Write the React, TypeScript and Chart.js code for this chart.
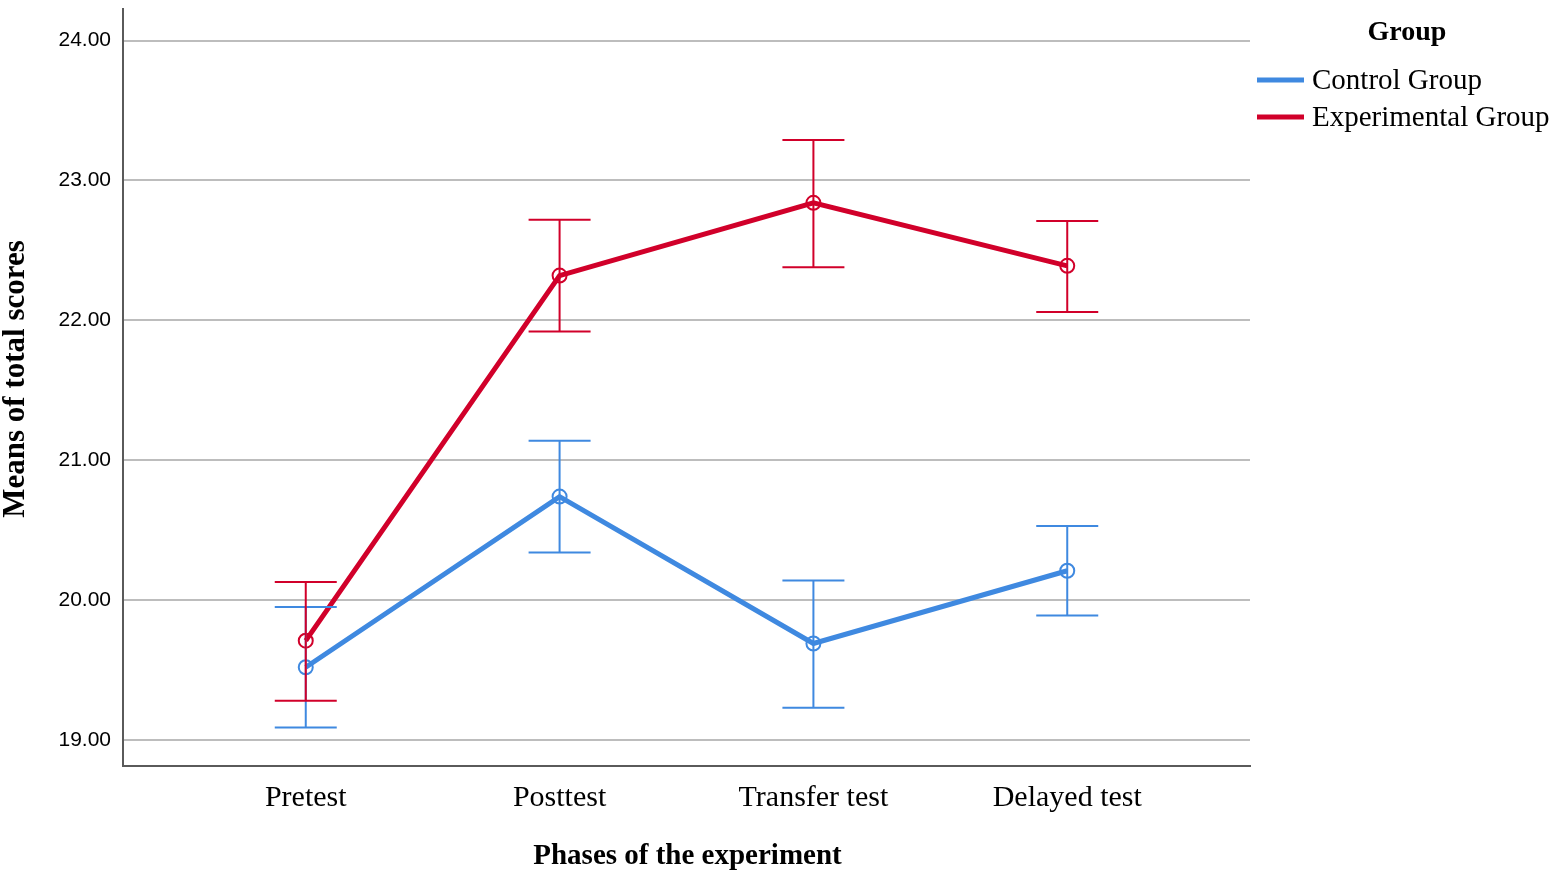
import React, { useEffect, useRef } from "react";
import { Chart, registerables } from "chart.js";

Chart.register(...registerables);

const categories = ["Pretest", "Posttest", "Transfer test", "Delayed test"];
const yTicks = [19, 20, 21, 22, 23, 24];

const controlMeans = [19.52, 20.74, 19.69, 20.21];
const controlLow = [19.09, 20.34, 19.23, 19.89];
const controlHigh = [19.95, 21.14, 20.14, 20.53];

const expMeans = [19.71, 22.32, 22.84, 22.39];
const expLow = [19.28, 21.92, 22.38, 22.06];
const expHigh = [20.13, 22.72, 23.29, 22.71];

const BLUE = "#3f89e0";
const RED = "#d1002a";

const SERIF = "'Liberation Serif', 'Times New Roman', serif";
const SANS = "'Liberation Sans', Arial, sans-serif";

const seriesList = [
  { name: "Control Group", color: BLUE, means: controlMeans, low: controlLow, high: controlHigh },
  { name: "Experimental Group", color: RED, means: expMeans, low: expLow, high: expHigh },
];

const errorBarPlugin = {
  id: "errorBars",
  afterDatasetsDraw(chart: any) {
    const { ctx, scales } = chart;
    const xs = scales.x;
    const ys = scales.y;
    ctx.save();
    ctx.lineWidth = 2;
    seriesList.forEach((s) => {
      ctx.strokeStyle = s.color;
      s.means.forEach((_, i) => {
        const x = xs.getPixelForValue(i);
        const yl = ys.getPixelForValue(s.low[i]);
        const yh = ys.getPixelForValue(s.high[i]);
        ctx.beginPath();
        ctx.moveTo(x, yl);
        ctx.lineTo(x, yh);
        ctx.moveTo(x - 31, yl);
        ctx.lineTo(x + 31, yl);
        ctx.moveTo(x - 31, yh);
        ctx.lineTo(x + 31, yh);
        ctx.stroke();
      });
    });
    ctx.restore();
  },
};

const textPlugin = {
  id: "texts",
  afterDraw(chart: any) {
    const { ctx, chartArea } = chart;
    ctx.save();
    ctx.fillStyle = "#000";
    // x title
    ctx.font = `bold 29px ${SERIF}`;
    ctx.textAlign = "center";
    ctx.textBaseline = "middle";
    ctx.fillText("Phases of the experiment", (chartArea.left + chartArea.right) / 2 + 1, 857);
    // y title
    ctx.save();
    ctx.translate(16, 379);
    ctx.rotate(-Math.PI / 2);
    ctx.font = `bold 31px ${SERIF}`;
    ctx.fillText("Means of total scores", 0, 0);
    ctx.restore();
    // legend
    ctx.font = `bold 28px ${SERIF}`;
    ctx.fillText("Group", 1407, 33);
    ctx.textAlign = "left";
    ctx.font = `29px ${SERIF}`;
    seriesList.forEach((s, i) => {
      const y = 80 + i * 37;
      ctx.strokeStyle = s.color;
      ctx.lineWidth = 5;
      ctx.beginPath();
      ctx.moveTo(1257, y);
      ctx.lineTo(1304, y);
      ctx.stroke();
      ctx.fillText(s.name, 1312, y + 1);
    });
    ctx.restore();
  },
};

export default function App() {
  const ref = useRef<HTMLCanvasElement>(null);
  useEffect(() => {
    const chart = new Chart(ref.current as HTMLCanvasElement, {
      type: "line",
      data: {
        datasets: seriesList.map((s) => ({
          label: s.name,
          data: s.means.map((v, i) => ({ x: i, y: v })),
          borderColor: s.color,
          backgroundColor: "rgba(0,0,0,0)",
          borderWidth: 5,
          pointRadius: 7,
          pointBorderWidth: 2,
          pointBorderColor: s.color,
          pointBackgroundColor: "rgba(0,0,0,0)",
          tension: 0,
        })),
      },
      options: {
        animation: false,
        responsive: false,
        layout: { padding: { left: 0, top: 3, right: 309, bottom: 0 } },
        plugins: { legend: { display: false }, tooltip: { enabled: false } },
        scales: {
          x: {
            type: "linear",
            min: -0.72,
            max: 3.72,
            afterBuildTicks: (scale: any) => {
              scale.ticks = categories.map((_, i) => ({ value: i }));
            },
            afterFit: (scale: any) => {
              scale.height = 111;
              scale.paddingLeft = 0;
              scale.paddingRight = 0;
            },
            grid: { display: false, drawTicks: false },
            border: { display: true, color: "#5a5a5a", width: 2 },
            ticks: {
              padding: 14,
              autoSkip: false,
              maxRotation: 0,
              color: "#000",
              font: { family: SERIF, size: 30 },
              callback: (v: any) => categories[Math.round(Number(v))] ?? "",
            },
          },
          y: {
            type: "linear",
            min: 18.814,
            max: 24.226,
            afterBuildTicks: (scale: any) => {
              scale.ticks = yTicks.map((v) => ({ value: v }));
            },
            afterFit: (scale: any) => {
              scale.width = 123;
              scale.paddingTop = 0;
              scale.paddingBottom = 0;
            },
            grid: { color: "#bdbdbd", lineWidth: 2, drawTicks: false },
            border: { display: true, color: "#5a5a5a", width: 2 },
            ticks: {
              padding: 12,
              color: "#000",
              font: { family: SANS, size: 21 },
              callback: (v: any) => Number(v).toFixed(2),
            },
          },
        },
      },
      plugins: [errorBarPlugin, textPlugin],
    } as any);
    return () => chart.destroy();
  }, []);
  return (
    <div style={{ position: "fixed", left: 0, top: 0, width: 1559, height: 877, background: "#fff" }}>
      <canvas ref={ref} width={1559} height={877} style={{ width: 1559, height: 877 }} />
    </div>
  );
}
